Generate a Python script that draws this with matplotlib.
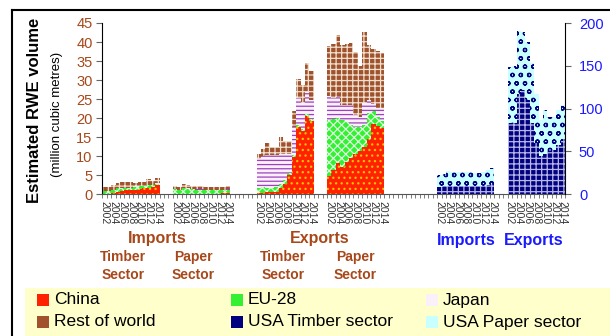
import numpy as np
import matplotlib
matplotlib.use("Agg")
import matplotlib.pyplot as plt
from matplotlib.patches import Rectangle
from matplotlib.lines import Line2D

plt.rcParams['font.family'] = ['Liberation Sans', 'DejaVu Sans']
plt.rcParams['hatch.linewidth'] = 0.9

# x tick labels (every other year, 2002-2014, 13 bars per group)
year_labels = ["2002", "2004", "2006", "2008", "2010", "2012", "2014"]

# Imports - timber sector (million m3 RWE)
imp_timber_china = [0.2, 0.2, 0.3, 0.7, 0.8, 1.1, 1.0, 1.2, 1.5, 1.7, 1.7, 1.9, 2.4]
imp_timber_eu = [0.7, 0.7, 0.8, 0.9, 0.8, 0.6, 0.7, 0.8, 0.6, 0.5, 0.8, 0.6, 0.4]
imp_timber_japan = [0.05, 0.05, 0.05, 0.05, 0.05, 0.05, 0.05, 0.05, 0.05, 0.05, 0.05, 0.05, 0.05]
imp_timber_row = [0.85, 0.85, 1.25, 1.25, 1.65, 1.55, 1.55, 0.9, 1.15, 1.05, 1.35, 0.85, 1.35]

# Imports - paper sector
imp_paper_china = [0.05, 0.05, 0.05, 0.05, 0.05, 0.05, 0.1, 0.1, 0.1, 0.15, 0.2, 0.3, 0.4]
imp_paper_eu = [1.3, 1.1, 1.5, 1.4, 1.3, 1.2, 1.1, 1.0, 1.0, 1.0, 0.9, 0.8, 0.8]
imp_paper_japan = [0.15, 0.1, 0.15, 0.1, 0.1, 0.1, 0.1, 0.1, 0.1, 0.1, 0.1, 0.1, 0.2]
imp_paper_row = [0.7, 0.65, 1.0, 0.95, 0.85, 0.85, 0.9, 0.7, 0.7, 0.65, 0.7, 0.7, 0.9]

# Exports - timber sector
exp_timber_china = [0.3, 0.4, 0.7, 0.7, 0.7, 1.7, 2.8, 5.0, 9.8, 17.8, 16.7, 20.6, 19.3]
exp_timber_eu = [1.4, 1.4, 0.9, 0.9, 1.2, 1.1, 1.0, 0.6, 0.6, 0.5, 0.4, 0.4, 0.6]
exp_timber_japan = [7.5, 8.2, 8.6, 8.6, 8.5, 7.8, 6.8, 5.0, 7.4, 7.0, 6.9, 6.0, 4.9]
exp_timber_row = [1.4, 1.8, 3.2, 2.1, 2.0, 4.4, 3.3, 3.3, 4.1, 5.1, 4.8, 7.5, 7.5]

# Exports - paper sector
exp_paper_china = [4.9, 6.3, 8.2, 7.3, 8.5, 9.6, 10.5, 11.5, 12.5, 14.5, 18.5, 18.0, 17.3]
exp_paper_eu = [14.7, 13.5, 11.8, 12.3, 10.6, 8.6, 7.3, 6.3, 5.7, 6.8, 3.3, 2.4, 2.0]
exp_paper_japan = [6.1, 5.5, 5.5, 3.9, 4.4, 5.3, 3.0, 2.6, 5.8, 3.4, 2.0, 2.4, 3.5]
exp_paper_row = [13.2, 14.2, 16.4, 15.8, 16.0, 16.2, 16.7, 13.2, 18.6, 14.4, 14.4, 14.9, 14.3]

# USA (right axis)
usa_imp_timber = [9, 9.5, 10, 10, 10, 10, 10, 10, 9.5, 9.5, 10, 11, 12.5]
usa_imp_paper = [14, 14, 17.5, 16.5, 16.5, 16, 16, 15.5, 15.5, 15.5, 16, 17.5, 18]
usa_exp_timber = [83, 83, 117, 122, 110, 83, 60, 45, 47, 50, 52, 58, 64]
usa_exp_paper = [66, 67, 74, 68, 68, 70, 57, 42, 51, 40, 38, 41, 40]

BROWN = '#A8481A'
BLUE = '#1A1AFF'

STYLE = {
    'China': dict(color='#FF2200', edgecolor='#FFC000', hatch='...'),
    'EU-28': dict(color='#33F033', edgecolor='#DDFFDD', hatch='xxxx'),
    'Japan': dict(color='#FAF0FA', edgecolor='#A040C0', hatch='----'),
    'Rest of world': dict(color='#A0522D', edgecolor='#F0E0D0', hatch='+++'),
    'USA Timber sector': dict(color='#000080', edgecolor='#B8B8E8', hatch='+++'),
    'USA Paper sector': dict(color='#C8FFFF', edgecolor='#000080', hatch='oo'),
}

# group start slot on x axis
starts = {'it': 0, 'ip': 16, 'et': 35, 'ep': 51, 'ui': 76, 'ue': 92}
n = 13


def stack(ax, x0, layers):
    x = x0 + np.arange(n)
    bottom = np.zeros(n)
    for name, vals in layers:
        vals = np.array(vals, dtype=float)
        ax.bar(x, vals, width=1.0, bottom=bottom, align='edge',
               linewidth=0, **STYLE[name])
        bottom += vals


fig = plt.figure(figsize=(6.1, 3.36), dpi=100)
ax = fig.add_axes([102.3 / 610, 1 - 194.3 / 336, (565 - 102.3) / 610, (194.3 - 23) / 336])
ax2 = ax.twinx()

stack(ax, starts['it'], [('China', imp_timber_china), ('EU-28', imp_timber_eu),
                         ('Japan', imp_timber_japan), ('Rest of world', imp_timber_row)])
stack(ax, starts['ip'], [('China', imp_paper_china), ('EU-28', imp_paper_eu),
                         ('Japan', imp_paper_japan), ('Rest of world', imp_paper_row)])
stack(ax, starts['et'], [('China', exp_timber_china), ('EU-28', exp_timber_eu),
                         ('Japan', exp_timber_japan), ('Rest of world', exp_timber_row)])
stack(ax, starts['ep'], [('China', exp_paper_china), ('EU-28', exp_paper_eu),
                         ('Japan', exp_paper_japan), ('Rest of world', exp_paper_row)])
stack(ax2, starts['ui'], [('USA Timber sector', usa_imp_timber), ('USA Paper sector', usa_imp_paper)])
stack(ax2, starts['ue'], [('USA Timber sector', usa_exp_timber), ('USA Paper sector', usa_exp_paper)])

ax.set_xlim(0, 105)
ax.set_ylim(0, 45)
ax2.set_ylim(0, 200)
ax.set_yticks(np.arange(0, 46, 5))
ax2.set_yticks(np.arange(0, 201, 50))

for a in (ax, ax2):
    a.spines['top'].set_visible(False)
ax.spines['right'].set_visible(False)
ax2.spines['left'].set_visible(False)
ax2.spines['bottom'].set_visible(False)
ax.spines['bottom'].set_color('#555555')
ax.spines['left'].set_color('black')
ax2.spines['right'].set_color('black')

ax.tick_params(axis='y', colors='#666666', labelcolor=BROWN, labelsize=10.5, length=4, pad=3)
ax2.tick_params(axis='y', colors='#666666', labelcolor=BLUE, labelsize=10.5, length=4, pad=6)

tick_pos = []
tick_lab = []
for s in starts.values():
    for i, lab in enumerate(year_labels):
        tick_pos.append(s + 2 * i + 0.5)
        tick_lab.append(lab)
ax.set_xticks(tick_pos)
ax.set_xticklabels(tick_lab, rotation=270, ha='center', va='top', fontsize=7.5, color='#333333')
ax.set_xticks(np.arange(0, 106), minor=True)
ax.tick_params(axis='x', which='major', length=0, pad=5)
ax.tick_params(axis='x', which='minor', length=3, color='#666666')


def px(x, y):
    return x / 610, 1 - y / 336


fig.text(*px(35, 110), 'Estimated RWE volume', rotation=90, ha='center', va='center',
         fontsize=12, fontweight='bold')
fig.text(*px(57, 114), '(million cubic metres)', rotation=90, ha='center', va='center',
         fontsize=9.5)

grp = [('Imports', 157, 239, BROWN, 11.5), ('Exports', 320, 239, BROWN, 11.5),
       ('Imports', 466, 241, BLUE, 11.5), ('Exports', 534, 241, BLUE, 11.5)]
for t, x, y, c, fs in grp:
    fig.text(*px(x, y), t, ha='center', va='center', fontsize=fs, fontweight='bold', color=c)
for t, x in [('Timber', 123), ('Paper', 193), ('Timber', 283), ('Paper', 355)]:
    fig.text(*px(x, 257), t, ha='center', va='center', fontsize=10, fontweight='bold', color=BROWN)
    fig.text(*px(x, 275), 'Sector', ha='center', va='center', fontsize=10, fontweight='bold', color=BROWN)

# legend box
fig.patches.append(Rectangle(px(25, 336), (610 - 25) / 610, (336 - 288) / 336,
                             transform=fig.transFigure, facecolor='#FFFFCC', edgecolor='none', zorder=0))
leg = [('China', 37, 300), ('EU-28', 231, 300), ('Japan', 426, 300),
       ('Rest of world', 37, 322), ('USA Timber sector', 231, 322), ('USA Paper sector', 426, 322)]
for name, x, y in leg:
    fig.patches.append(Rectangle(px(x, y + 6), 12 / 610, 12 / 336, transform=fig.transFigure,
                                 linewidth=0, zorder=2, **STYLE[name]))
    fig.text(*px(x + 17, y), name, ha='left', va='center', fontsize=12.5)

# outer frame
fig.lines.append(Line2D([12 / 610, 12 / 610], [0, 1 - 10 / 336], transform=fig.transFigure,
                        color='black', linewidth=1.5))
fig.lines.append(Line2D([12 / 610, 1], [1 - 10 / 336, 1 - 10 / 336], transform=fig.transFigure,
                        color='black', linewidth=1.5))

fig.savefig('out.png', dpi=100)
